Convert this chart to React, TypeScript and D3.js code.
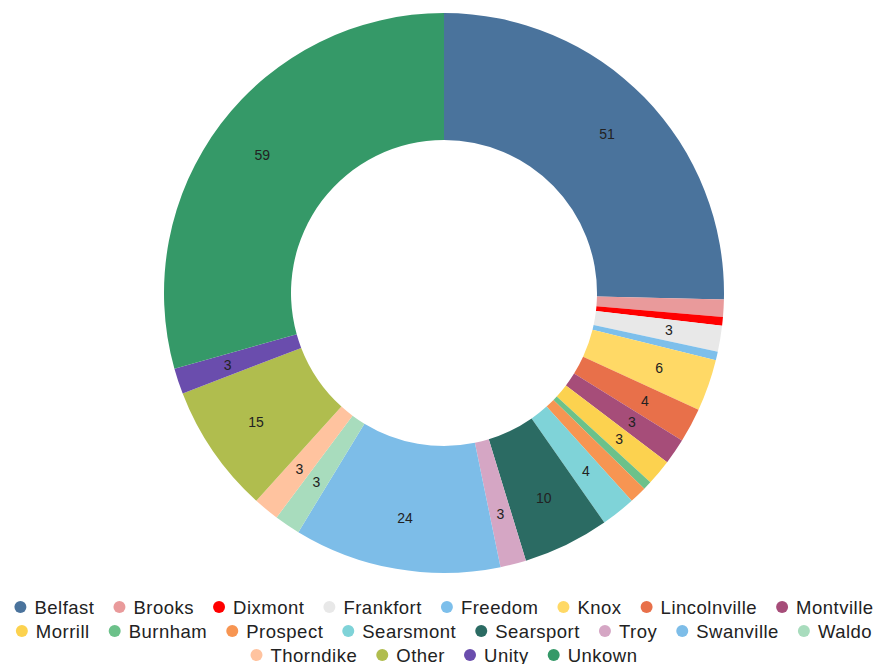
import { useMemo } from 'react'
import * as d3 from 'd3'

const towns = [
  'Belfast', 'Brooks', 'Dixmont', 'Frankfort', 'Freedom', 'Knox', 'Lincolnville', 'Montville',
  'Morrill', 'Burnham', 'Prospect', 'Searsmont', 'Searsport', 'Troy', 'Swanville', 'Waldo',
  'Thorndike', 'Other', 'Unity', 'Unkown',
]
const counts = [51, 2, 1, 3, 1, 6, 4, 3, 3, 1, 2, 4, 10, 3, 24, 3, 3, 15, 3, 59]
const colors = [
  '#4a739c', '#e99a9b', '#ff0000', '#e8e8e8', '#7dbfeb', '#ffd966', '#e8704a', '#a64d79',
  '#fcd24f', '#6cc18a', '#f79552', '#7fd3d8', '#2b6b63', '#d5a6c4', '#7dbde8', '#a8dcbd',
  '#ffc39f', '#b0bd4e', '#6a4dad', '#359968',
]

const W = 887
const H = 664
const FONT = '"Liberation Sans", Arial, Helvetica, sans-serif'
const LEGEND_FS = 18.5
const LEGEND_LS = 0.5

function measure(text: string) {
  const c = document.createElement('canvas').getContext('2d')!
  c.font = `${LEGEND_FS}px "Liberation Sans"`
  return c.measureText(text).width + LEGEND_LS * text.length
}

export default function App() {
  const cx = 444
  const cy = 293
  const outer = 280
  const inner = 153
  const labelR = 228

  const data = towns.map((t, i) => ({ town: t, value: counts[i], color: colors[i] }))
  const pie = d3.pie<typeof data[0]>().sort(null).value(d => d.value)
  const arcs = pie(data)
  const arc = d3.arc<d3.PieArcDatum<typeof data[0]>>().innerRadius(inner).outerRadius(outer)
  const labelArc = d3.arc<d3.PieArcDatum<typeof data[0]>>().innerRadius(labelR).outerRadius(labelR)

  // legend layout, greedy wrap, rows centered
  const legendRows = useMemo(() => {
    const dotR = 6
    const dotGap = 8
    const itemGap = 19
    const maxW = 874
    const rows: { town: string; color: string; w: number }[][] = [[]]
    let cur = 0
    data.forEach(d => {
      const w = dotR * 2 + dotGap + measure(d.town)
      const add = rows[rows.length - 1].length ? itemGap + w : w
      if (cur + add > maxW) {
        rows.push([{ town: d.town, color: d.color, w }])
        cur = w
      } else {
        rows[rows.length - 1].push({ town: d.town, color: d.color, w })
        cur += add
      }
    })
    return rows.map(row => {
      const total = row.reduce((s, r) => s + r.w, 0) + itemGap * (row.length - 1)
      let x = cx - total / 2
      return row.map(r => {
        const item = { ...r, x }
        x += r.w + itemGap
        return item
      })
    })
  }, [])

  return (
    <svg width={W} height={H} style={{ position: 'absolute', left: 0, top: 0, background: '#fff' }}>
      <g transform={`translate(${cx},${cy})`}>
        {arcs.map(a => (
          <path key={a.data.town} d={arc(a) ?? ''} fill={a.data.color} />
        ))}
        {arcs.filter(a => a.data.value >= 3).map(a => {
          const [x, y] = labelArc.centroid(a)
          return (
            <text key={a.data.town} x={x} y={y} textAnchor="middle" dominantBaseline="central"
              fontFamily={FONT} fontSize={14} fill="#222">
              {a.data.value}
            </text>
          )
        })}
      </g>
      {legendRows.map((row, ri) => row.map(item => {
        const y = 607 + ri * 24
        return (
          <g key={item.town}>
            <circle cx={item.x + 6} cy={y} r={6} fill={item.color} />
            <text x={item.x + 20} y={y} dominantBaseline="central" fontFamily={FONT}
              fontSize={LEGEND_FS} letterSpacing={LEGEND_LS} fill="#222">
              {item.town}
            </text>
          </g>
        )
      }))}
    </svg>
  )
}
